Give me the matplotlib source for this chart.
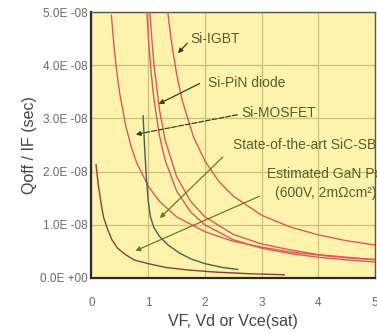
import matplotlib
matplotlib.use("Agg")
import matplotlib.pyplot as plt
from matplotlib.ticker import FuncFormatter

plt.rcParams["font.family"] = ["Liberation Sans", "DejaVu Sans"]

# curves, y in units of 1e-8 s
mosfet_x = [0.35, 0.40, 0.45, 0.5, 0.6, 0.7, 0.8, 1.0, 1.2, 1.5, 2.0, 2.5, 3.0, 3.5, 4.0, 4.5, 5.0]
mosfet_y = [4.94, 4.33, 3.84, 3.46, 2.88, 2.47, 2.16, 1.73, 1.44, 1.15, 0.87, 0.69, 0.58, 0.49, 0.43, 0.38, 0.35]

pin_a_x = [0.97, 1.0, 1.05, 1.1, 1.2, 1.3, 1.5, 1.75, 2.0, 2.5, 3.0, 3.5, 4.0, 4.5, 5.0]
pin_a_y = [5.12, 4.57, 3.88, 3.37, 2.67, 2.21, 1.64, 1.24, 1.0, 0.72, 0.56, 0.46, 0.39, 0.34, 0.30]

pin_b_x = [1.02, 1.05, 1.1, 1.2, 1.3, 1.5, 1.75, 2.0, 2.5, 3.0, 3.5, 4.0, 4.5, 5.0]
pin_b_y = [5.18, 4.68, 4.03, 3.15, 2.59, 1.91, 1.44, 1.15, 0.82, 0.64, 0.53, 0.44, 0.39, 0.34]

igbt_x = [1.33, 1.4, 1.5, 1.6, 1.8, 2.0, 2.25, 2.5, 3.0, 3.5, 4.0, 4.5, 5.0]
igbt_y = [5.14, 4.51, 3.84, 3.34, 2.65, 2.20, 1.81, 1.54, 1.18, 0.96, 0.81, 0.70, 0.62]

sic_x = [0.91, 0.93, 0.95, 0.97, 1.0, 1.04, 1.1, 1.2, 1.35, 1.55, 1.75, 2.0, 2.3, 2.58]
sic_y = [3.05, 2.6, 2.2, 1.85, 1.45, 1.15, 0.95, 0.78, 0.62, 0.47, 0.36, 0.27, 0.20, 0.16]

gan_x = [0.08, 0.12, 0.17, 0.21, 0.29, 0.36, 0.46, 0.6, 0.75, 1.0, 1.3, 1.7, 2.2, 2.8, 3.4]
gan_y = [2.13, 1.75, 1.4, 1.15, 0.9, 0.72, 0.56, 0.44, 0.34, 0.27, 0.20, 0.15, 0.11, 0.08, 0.06]

x_ticks = [0, 1, 2, 3, 4, 5]
y_ticks = [0, 1, 2, 3, 4, 5]

SCALE = 1e-8
RED = "#dc5a55"
TXT = "#5a5f2a"
FS = 10


def sci(v, _pos):
    return f"{v:.1E}".replace("E-0", "E -0").replace("E+0", "E +0")


fig = plt.figure(figsize=(3.77, 3.34), dpi=100)
ax = fig.add_axes([0.2427, 0.1677, 0.752, 0.796])
ax.set_facecolor("#fdf3ad")

for xs, ys in [(mosfet_x, mosfet_y), (pin_a_x, pin_a_y), (pin_b_x, pin_b_y), (igbt_x, igbt_y)]:
    ax.plot(xs, [v * SCALE for v in ys], color=RED, lw=1.0, zorder=3)
ax.plot(sic_x, [v * SCALE for v in sic_y], color="#4e5e55", lw=1.0, zorder=3)
ax.plot(gan_x, [v * SCALE for v in gan_y], color="#8a4038", lw=1.0, zorder=3)

ax.set_xlim(0, 5)
ax.set_ylim(0, 5 * SCALE)
ax.set_xticks(x_ticks)
ax.set_yticks([v * SCALE for v in y_ticks])
ax.yaxis.set_major_formatter(FuncFormatter(sci))
ax.tick_params(axis="both", length=0, colors="#6a6a6a", labelsize=8.5)
ax.tick_params(axis="x", pad=14)
ax.tick_params(axis="y", pad=3)
ax.grid(True, color="#c9c27a", lw=0.9, zorder=1)
ax.set_axisbelow(True)

for side in ["left", "bottom"]:
    ax.spines[side].set_color("#2a2a2a")
    ax.spines[side].set_linewidth(1.6)
for side in ["top", "right"]:
    ax.spines[side].set_color("#555555")
    ax.spines[side].set_linewidth(1.0)

ax.set_xlabel("VF, Vd or Vce(sat)", fontsize=11.5, color="#444444", labelpad=3)
ax.set_ylabel("Qoff / IF (sec)", fontsize=11.5, color="#444444", labelpad=2)

arrow = dict(arrowstyle="-|>", color="#3d3d1c", lw=0.9, mutation_scale=7)
green_arrow = dict(arrowstyle="-|>", color="#6b7a1e", lw=0.9, mutation_scale=7)

ax.annotate("", xy=(1.49, 4.19 * SCALE), xytext=(1.72, 4.45 * SCALE), arrowprops=arrow)
ax.text(1.74, 4.49 * SCALE, "Si-IGBT", fontsize=FS, color=TXT, va="center")

ax.annotate("", xy=(1.14, 3.25 * SCALE), xytext=(1.95, 3.68 * SCALE), arrowprops=arrow)
ax.text(2.05, 3.67 * SCALE, "Si-PiN diode", fontsize=FS, color=TXT, va="center")

ax.annotate("", xy=(0.73, 2.69 * SCALE), xytext=(2.62, 3.08 * SCALE),
            arrowprops=dict(arrow, linestyle=(0, (4, 1.5))))
ax.text(2.65, 3.10 * SCALE, "Si-MOSFET", fontsize=FS, color=TXT, va="center")

ax.annotate("", xy=(1.17, 1.09 * SCALE), xytext=(2.35, 2.31 * SCALE), arrowprops=green_arrow)
# the reference cuts these labels at the right edge of the picture
ax.text(2.50, 2.50 * SCALE, "State-of-the-art SiC-SBD", fontsize=FS, color=TXT,
        va="center", clip_on=False)

ax.annotate("", xy=(0.73, 0.49 * SCALE), xytext=(3.01, 1.56 * SCALE), arrowprops=green_arrow)
ax.text(3.10, 1.95 * SCALE, "Estimated GaN Power Device", fontsize=FS, color=TXT,
        va="center", clip_on=False)
ax.text(3.24, 1.60 * SCALE, "(600V, 2mΩcm²)", fontsize=FS, color=TXT,
        va="center", clip_on=False)

fig.savefig("out.png", dpi=100)
